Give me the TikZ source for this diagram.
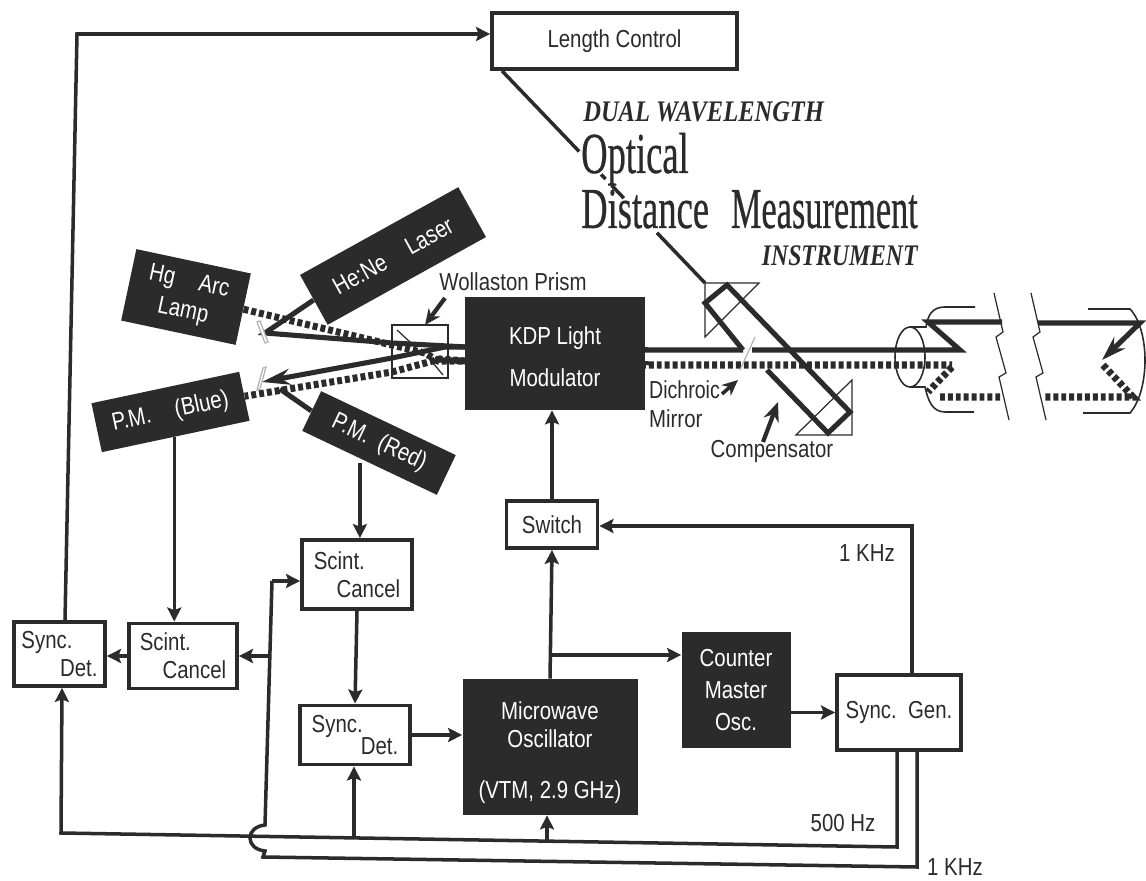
\documentclass[tikz,border=0pt]{standalone}
\usepackage{fontspec}
\usetikzlibrary{arrows.meta,calc}
\setmainfont[FakeStretch=0.83]{Liberation Sans}
\newfontfamily\titlefont[FakeBold=0.6]{Liberation Serif}
\newfontfamily\slantfont[FakeStretch=0.82]{Liberation Serif}
\definecolor{ink}{HTML}{2B2B2B}
\tikzset{
  blackbox/.style={fill=ink,text=white,inner sep=2pt,align=center,font=\fontsize{14}{17}\selectfont},
  whitebox/.style={draw=ink,line width=2.2pt,fill=white,inner sep=2pt,align=left,text=ink,font=\fontsize{14}{16}\selectfont},
  wire/.style={draw=ink,line width=2pt},
  beamsolid/.style={draw=ink,line width=2.9pt},
  beamdash/.style={draw=ink,line width=4pt,dash pattern=on 2.8pt off 1.7pt},
  thinline/.style={draw=ink,line width=0.7pt},
  caption/.style={text=ink,inner sep=1pt,font=\fontsize{14}{17}\selectfont},
  bigtitle/.style={text=ink,inner sep=0pt,xscale=0.63,font=\titlefont\fontsize{33}{33}\selectfont},
  smalltitle/.style={text=ink,inner sep=0pt,font=\slantfont\bfseries\itshape\fontsize{17}{17}\selectfont},
}
\begin{document}
\begin{tikzpicture}[>={Stealth[length=8pt,width=8pt,inset=1.5pt]},x=0.02cm,y=-0.02cm]
  \useasboundingbox (0,0) rectangle (1146,881);
  % light sources and detectors
  \node[blackbox,minimum width=117*0.02cm,minimum height=73*0.02cm,rotate=-12] (lamp) at (186,297) {Hg\quad Arc\\Lamp};
  \node[blackbox,minimum width=181*0.02cm,minimum height=57*0.02cm,rotate=29] (laser) at (393,256) {He:Ne\quad Laser};
  \node[blackbox,minimum width=151*0.02cm,minimum height=50*0.02cm,rotate=12] (pmblue) at (170.5,412) {P.M.\quad (Blue)};
  \node[blackbox,minimum width=149*0.02cm,minimum height=44*0.02cm,rotate=-25.4] (pmred) at (379,443) {P.M.\ \ (Red)};
  % boxes
  \node[whitebox,minimum width=245*0.02cm,minimum height=56*0.02cm,align=center] (length) at (614.5,41) {Length Control};
  \node[blackbox,minimum width=180*0.02cm,minimum height=113*0.02cm] (kdp) at (555,353.5) {\rule{0pt}{14pt}KDP Light\\[7pt]Modulator};
  \node[whitebox,minimum width=91*0.02cm,minimum height=47*0.02cm,align=center] (switch) at (552,524.5) {Switch};
  \node[whitebox,minimum width=110*0.02cm,minimum height=69*0.02cm] (scintup) at (357,574.5) {Scint.\\\hspace*{13pt}Cancel};
  \node[whitebox,minimum width=108*0.02cm,minimum height=65*0.02cm] (scintlow) at (183,656) {Scint.\\\hspace*{13pt}Cancel};
  \node[whitebox,minimum width=91*0.02cm,minimum height=64*0.02cm] (syncleft) at (59.5,654) {Sync.\\\hspace*{22pt}Det.};
  \node[whitebox,minimum width=110*0.02cm,minimum height=59*0.02cm] (syncmid) at (355,735) {Sync.\\[-3pt]\hspace*{28pt}Det.};
  \node[blackbox,minimum width=175*0.02cm,minimum height=136*0.02cm] (micro) at (550,747) {\rule{0pt}{17pt}Microwave\\[-1pt]Oscillator\\[12pt](VTM, 2.9 GHz)};
  \node[blackbox,minimum width=109*0.02cm,minimum height=116*0.02cm] (counter) at (736,690) {Counter\\[1pt]Master\\[1pt]Osc.};
  \node[whitebox,minimum width=124*0.02cm,minimum height=75*0.02cm,align=center] (syncgen) at (899,712.5) {Sync.\ \ Gen.};
  % path to length control, broken by the title
  \coordinate (lenfoot) at ($(length.south west)+(12,0)$);
  \coordinate (prismtop) at (705,283);
  \foreach \p/\q in {0/0.38,0.488/0.51,0.54/0.6,0.763/1}
    \draw[wire] ($(lenfoot)!\p!(prismtop)$) -- ($(lenfoot)!\q!(prismtop)$);
  \node[bigtitle,anchor=base west] (titleb) at (581,173) {Optical};
  \node[bigtitle,anchor=base west] (titlec) at (581,228) {Distance\hspace{0.6em}\scalebox{0.94}[1]{Measurement}};
  \node[smalltitle,anchor=base west] (titlea) at (583,122) {DUAL WAVELENGTH};
  \node[smalltitle,anchor=base east] (titled) at (918,266) {\scalebox{0.97}[1]{INSTRUMENT}};
  % beams on the left
  \coordinate (lampmir) at (265,333);
  \coordinate (detmir) at (262,382);
  \coordinate (kdpup) at (466,347);
  \coordinate (kdplow) at (466,361);
  \coordinate (prismin) at (392,358);
  \coordinate (prismout) at (392,372);
  \draw[beamsolid] (laser.west) -- (lampmir) -- (392,343) -- (kdpup);
  \draw[beamsolid,-{Stealth[length=16pt,width=9pt]}] (kdpup) -- (445,347) -- (prismin) -- (detmir);
  \draw[beamsolid] (280,389) -- (pmred.west);
  \draw[beamdash] (lamp.east) -- (425,353) -- (438,361) -- (kdplow);
  \draw[beamdash] (kdplow) -- (440,359) -- (prismout) -- (pmblue.east);
  \foreach \a/\b/\c/\d in {257/322/265/343,263/368/257/390}
    \draw[thinline,draw=gray!60,fill=white] (\a,\b) -- (\c,\d) -- (\c+3,\d-1) -- (\a+3,\b-1) -- cycle;
  % prism
  \draw[thinline,line width=1.6pt] (392,325) rectangle (448,378);
  \draw[thinline] (397,330) -- (410,342) (433,363) -- (443,375);
  \node[caption] (prism) at (513,282) {Wollaston Prism};
  \draw[wire,-{Stealth[length=9pt,width=8pt]},line width=2.4pt] (445,298) coordinate (prismfoot) -- (425,325);
  % beams on the right
  \draw[beamsolid] (kdp.east |- kdpup) -- (645,350) -- (743,350);
  \draw[beamsolid] (752,350) -- (960,350) -- (928,322) -- (1002,322);
  \draw[beamsolid,-{Stealth[length=14pt,width=9pt]}] (1038,323) -- (1140,323) -- (1102,360);
  \draw[beamdash] (kdp.east |- kdplow) -- (645,365) -- (952,365);
  \draw[beamdash] (952,367) -- (928,392) (940,397) -- (1000,397);
  \draw[beamdash] (1103,365) -- (1133,397) -- (1043,397);
  % compensator
  \draw[beamsolid] (743,350) -- (705,303) -- (727,285) -- (850,412) -- (828,433) -- (767,370);
  \draw[thinline] (705,283) -- (759,283) -- (705,337) -- cycle;
  \draw[thinline] (852,380) -- (852,435) -- (796,435) -- cycle;
  \draw[thinline,draw=gray!60] (755,337) -- (740,370);
  \node[caption,align=left,anchor=north west] (dichroic) at (647,379) {\scalebox{0.96}[1]{Dichroic}\\[-1pt]Mirror};
  \node[caption] (comp) at (772,451) {Compensator};
  \draw[wire,-{Stealth[length=9pt,width=8pt]}] (722,394) coordinate (dichfoot) -- (738,380);
  \draw[wire,-{Stealth[length=11pt,width=9pt]},line width=2.4pt] (763,442) coordinate (compfoot) -- (778,402);
  % tubes and breaks
  \draw[thinline,line width=0.9pt] (910,357) ellipse [x radius=15,y radius=30];
  \draw[thinline,line width=0.9pt] (910,327) -- (926,327) .. controls (928,315) and (932,307) .. (945,307) -- (975,307);
  \draw[thinline,line width=0.9pt] (910,387) -- (925,387) .. controls (928,400) and (932,412) .. (945,412) -- (974,412);
  \draw[thinline,line width=0.9pt] (1088,309) -- (1130,309) .. controls (1150,330) and (1150,390) .. (1130,413) -- (1083,413);
  \foreach \s in {0,37}
    \draw[thinline] (994+\s,293) -- (1003+\s,332) -- (996+\s,337) -- (1006+\s,373) -- (999+\s,377) -- (1009+\s,420);
  % control wires
  \draw[wire,->] ([xshift=-0.03cm]pmblue.south) -- ([xshift=-0.03cm]pmblue.south |- scintlow.north);
  \draw[wire,->] ([xshift=-0.19cm]pmred.south) -- ([xshift=-0.19cm]pmred.south |- scintup.north);
  \draw[wire,->] (scintup.south) -- (syncmid.north);
  \draw[wire,->] (syncmid.east) -- (micro.west |- syncmid.east);
  \draw[wire,->] (micro.north) -- (switch.south);
  \draw[wire,->] (switch.north) -- (kdp.south -| switch.north);
  \draw[wire,->] (551,655) coordinate (branch) -- (counter.west |- branch);
  \draw[wire,->] (counter.east |- syncgen.west) -- (syncgen.west);
  \draw[wire,->] (syncleft.north) ++(5.5,0) -- (77,34) -- (length.west |- 77,34);
  \draw[wire,->] (scintlow.west) -- (syncleft.east |- scintlow.west);
  % timing signals
  \coordinate (timeA) at (912,526);
  \draw[wire,->] (syncgen.north -| timeA) -- (timeA) -- (switch.east |- timeA);
  \coordinate (busA) at (897,847);
  \draw[wire,->] (syncgen.south -| busA) -- (busA) -- (61,833) -- (syncleft.south -| 62,833);
  \coordinate (busB) at (917,867);
  \draw[wire] (syncgen.south -| busB) -- (busB) -- (263,857) -- (265,851) .. controls (256,850) and (250,845) .. (250,838)
     .. controls (250,831) and (256,826) .. (265,825) -- (272,581) coordinate (sidein);
  \draw[wire,->] (sidein) -- (scintup.west |- sidein);
  \draw[wire,->] (270,656) coordinate (sidelow) -- (scintlow.east |- sidelow);
  \draw[wire,->] (354,839) coordinate (upmid) -- (syncmid.south -| upmid);
  \draw[wire,->] (547,841) coordinate (upmic) -- (micro.south -| upmic);
  % labels
  \node[caption] (labela) at (867,553) {1 KHz};
  \node[caption] (labelb) at (843,823) {500 Hz};
  \node[caption] (labelc) at (955,867) {1 KHz};
\end{tikzpicture}
\end{document}
